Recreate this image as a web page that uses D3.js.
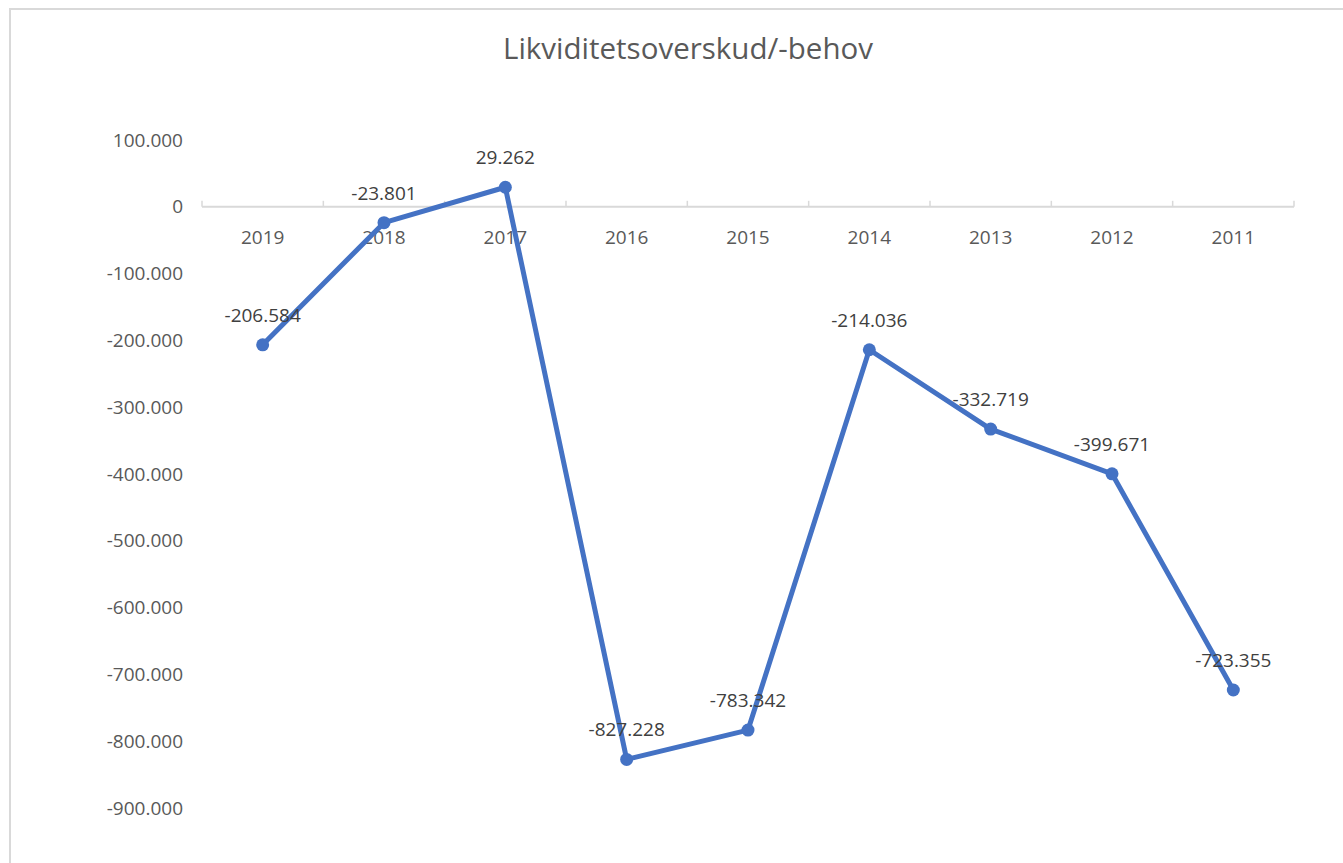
<!DOCTYPE html>
<html><head><meta charset="utf-8">
<script src="https://cdn.jsdelivr.net/npm/d3@7"></script>
<style>
html,body{margin:0;padding:0;background:#fff;}
svg{display:block;}
text{font-family:"Open Sans","Noto Sans",sans-serif;fill:#595959;}
</style></head>
<body>
<svg id="chart" width="1343" height="863"></svg>
<script>
const title = "Likviditetsoverskud/-behov";
const categories = ["2019","2018","2017","2016","2015","2014","2013","2012","2011"];
const values = [-206584, -23801, 29262, -827228, -783342, -214036, -332719, -399671, -723355];
const labels = ["-206.584","-23.801","29.262","-827.228","-783.342","-214.036","-332.719","-399.671","-723.355"];
const yTicks = [100000, 0, -100000, -200000, -300000, -400000, -500000, -600000, -700000, -800000, -900000];

const svg = d3.select("#chart");
svg.append("rect").attr("x",10).attr("y",9).attr("width",1345).attr("height",870)
  .attr("fill","#fff").attr("stroke","#d9d9d9").attr("stroke-width",2);

svg.append("text").attr("x",688).attr("y",59).attr("text-anchor","middle")
  .style("font-size","29.5px").text(title);

const x = d3.scaleBand().domain(categories).range([202,1294]);
const y = d3.scaleLinear().domain([-900000,100000]).range([808,140]);

const fmt = v => v === 0 ? "0" : d3.format(",")(v).replace(/,/g,".").replace("−","-");

// y labels
svg.append("g").selectAll("text").data(yTicks).join("text")
  .attr("x",183).attr("y",d=>y(d)).attr("dy","0.35em").attr("text-anchor","end")
  .style("font-size","19px").text(d=>fmt(d));

// x axis
const xg = svg.append("g").attr("transform",`translate(0,${y(0)})`);
xg.append("line").attr("x1",202).attr("x2",1294).attr("stroke","#d9d9d9").attr("stroke-width",2);
const bounds = categories.map(c=>x(c)).concat([1294]);
xg.selectAll("line.t").data(bounds).join("line").attr("class","t")
  .attr("x1",d=>d).attr("x2",d=>d).attr("y1",0).attr("y2",-6)
  .attr("stroke","#d9d9d9").attr("stroke-width",1.5);
xg.selectAll("text").data(categories).join("text")
  .attr("x",d=>x(d)+x.bandwidth()/2).attr("y",31).attr("dy","0.35em").attr("text-anchor","middle")
  .style("font-size","19px").text(d=>d);

const data = categories.map((c,i)=>({c, v:values[i], l:labels[i]}));
const cx = d=>x(d.c)+x.bandwidth()/2;

svg.append("path").datum(data)
  .attr("d", d3.line().x(cx).y(d=>y(d.v)))
  .attr("fill","none").attr("stroke","#4472C4").attr("stroke-width",5)
  .attr("stroke-linejoin","round").attr("stroke-linecap","round");

svg.append("g").selectAll("circle").data(data).join("circle")
  .attr("cx",cx).attr("cy",d=>y(d.v)).attr("r",6.5).attr("fill","#4472C4");

svg.append("g").selectAll("text").data(data).join("text")
  .attr("x",cx).attr("y",d=>y(d.v)-23).attr("text-anchor","middle")
  .style("font-size","19px").style("fill","#404040").text(d=>d.l);
</script>
</body></html>
